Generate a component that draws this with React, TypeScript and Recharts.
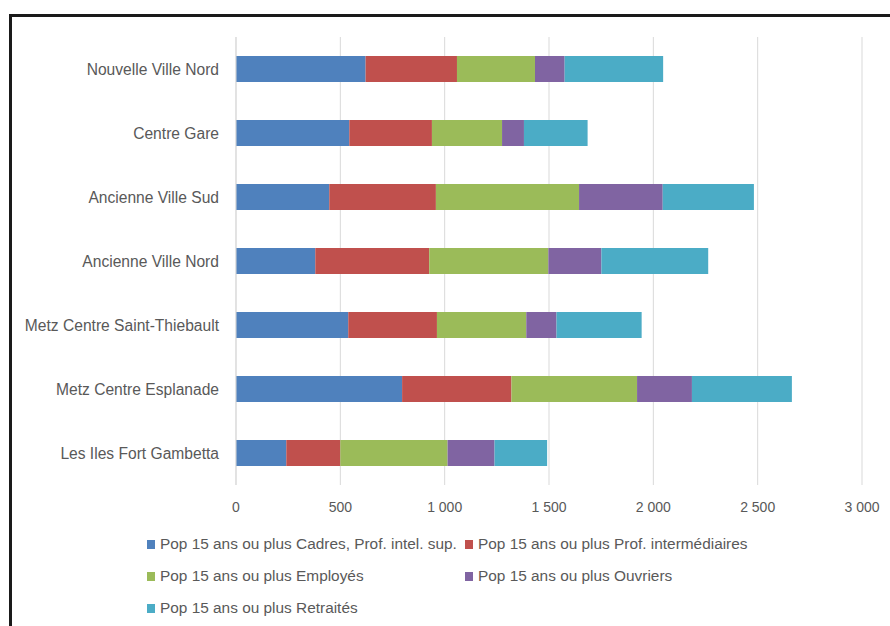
import React from "react";
import { BarChart, Bar, XAxis, YAxis, CartesianGrid, Legend } from "recharts";

const categories = [
  "Nouvelle Ville Nord",
  "Centre Gare",
  "Ancienne Ville Sud",
  "Ancienne Ville Nord",
  "Metz Centre Saint-Thiebault",
  "Metz Centre Esplanade",
  "Les Iles Fort Gambetta",
];
const cadres = [621, 543, 447, 380, 538, 796, 241];
const profInter = [438, 396, 511, 546, 425, 524, 259];
const employes = [374, 336, 686, 571, 428, 602, 514];
const ouvriers = [142, 105, 401, 254, 145, 263, 225];
const retraites = [472, 305, 437, 512, 408, 479, 252];

const xTicks = [0, 500, 1000, 1500, 2000, 2500, 3000];

const seriesNames = [
  "Pop 15 ans ou plus Cadres, Prof. intel. sup.",
  "Pop 15 ans ou plus Prof. intermédiaires",
  "Pop 15 ans ou plus Employés",
  "Pop 15 ans ou plus Ouvriers",
  "Pop 15 ans ou plus Retraités",
];
const seriesKeys = ["cadres", "profInter", "employes", "ouvriers", "retraites"];
const seriesColors = ["#4F81BD", "#C0504D", "#9BBB59", "#8064A2", "#4BACC6"];
const seriesValues = [cadres, profInter, employes, ouvriers, retraites];

const data = categories.map((name, i) => {
  const row: Record<string, string | number> = { name };
  seriesKeys.forEach((k, j) => {
    row[k] = seriesValues[j][i];
  });
  return row;
});

const FONT = '"Liberation Sans", Arial, sans-serif';
const TEXT = "#595959";

const fmt = (v: number) => String(v).replace(/\B(?=(\d{3})+(?!\d))/g, " ");

const LegendContent = () => (
  <div
    style={{
      display: "grid",
      gridTemplateColumns: "318px 330px",
      paddingLeft: 147,
      fontFamily: FONT,
      fontSize: 15.4,
      color: TEXT,
      lineHeight: "32px",
      whiteSpace: "nowrap",
    }}
  >
    {seriesNames.map((n, i) => (
      <div key={n} style={{ display: "flex", alignItems: "center", height: 32 }}>
        <span
          style={{
            display: "inline-block",
            width: 8,
            height: 9,
            background: seriesColors[i],
            marginRight: 5,
          }}
        />
        <span>{n}</span>
      </div>
    ))}
  </div>
);

export default function App() {
  return (
    <div
      style={{
        position: "absolute",
        left: 0,
        top: 0,
        width: 890,
        height: 626,
        overflow: "hidden",
        background: "#fff",
      }}
    >
      <div
        style={{
          position: "absolute",
          left: 9,
          top: 14,
          width: 1000,
          height: 1000,
          border: "3px solid #1a1a1a",
          boxSizing: "border-box",
        }}
      />
      <div style={{ position: "absolute", left: 0, top: 0 }}>
        <BarChart
          width={890}
          height={626}
          data={data}
          layout="vertical"
          margin={{ top: 37, right: 28, bottom: 111, left: 0 }}
          barSize={26}
        >
          <CartesianGrid horizontal={false} stroke="#d9d9d9" strokeWidth={1} />
          <XAxis
            type="number"
            domain={[0, 3000]}
            ticks={xTicks}
            tickFormatter={fmt}
            axisLine={false}
            tickLine={false}
            tickMargin={11}
            height={30}
            interval={0}
            tick={{ fill: TEXT, fontSize: 14, fontFamily: FONT }}
          />
          <YAxis
            type="category"
            dataKey="name"
            width={236}
            axisLine={{ stroke: "#d9d9d9" }}
            tickLine={false}
            tickMargin={11}
            interval={0}
            tick={{ fill: TEXT, fontSize: 15.6, fontFamily: FONT }}
          />
          {seriesKeys.map((k, i) => (
            <Bar
              key={k}
              dataKey={k}
              name={seriesNames[i]}
              stackId="a"
              fill={seriesColors[i]}
              isAnimationActive={false}
            />
          ))}
          <Legend
            layout="vertical"
            align="center"
            verticalAlign="middle"
            content={<LegendContent />}
            wrapperStyle={{ left: 0, top: 528, width: 890, height: 96 }}
          />
        </BarChart>
      </div>
    </div>
  );
}
